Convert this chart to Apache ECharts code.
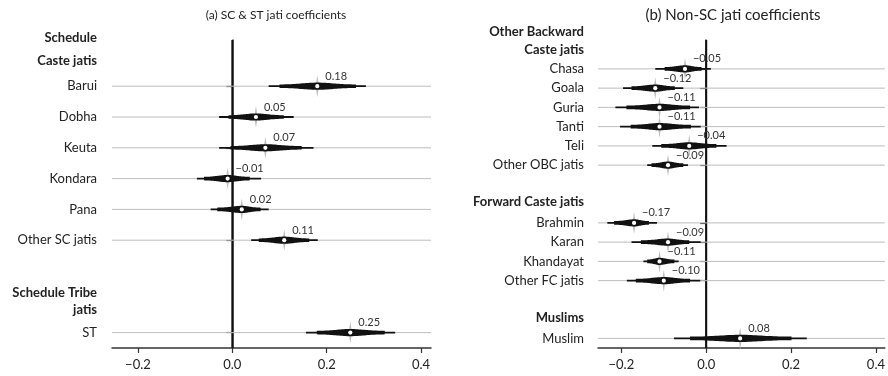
<!DOCTYPE html>
<html>
<head>
<meta charset="utf-8">
<title>Jati coefficients</title>
<script src="https://cdn.jsdelivr.net/npm/echarts@6.0.0/dist/echarts.min.js"></script>
<style>
  html, body { margin: 0; padding: 0; background: #ffffff; }
  #chart { width: 888px; height: 376px; }
</style>
</head>
<body>
<div id="chart"></div>
<script>
// Panel (a): Scheduled Caste and Scheduled Tribe jatis
const leftCategories = ['Schedule Caste jatis', 'Barui', 'Dobha', 'Keuta', 'Kondara', 'Pana', 'Other SC jatis', ' ', 'Schedule Tribe jatis', 'ST'];
const leftEstimate  = [null, 0.18, 0.05, 0.07, -0.01, 0.02, 0.11, null, null, 0.25];
const leftOuterLow  = [null, 0.077, -0.028, -0.028, -0.075, -0.046, 0.040, null, null, 0.156];
const leftOuterHigh = [null, 0.283, 0.130, 0.172, 0.061, 0.077, 0.181, null, null, 0.345];
const leftInnerLow  = [null, 0.100, -0.008, -0.004, -0.060, -0.032, 0.056, null, null, 0.179];
const leftInnerHigh = [null, 0.262, 0.109, 0.147, 0.037, 0.060, 0.163, null, null, 0.323];

// Panel (b): other backward castes, forward castes and Muslims
const rightCategories = ['Other Backward Caste jatis', 'Chasa', 'Goala', 'Guria', 'Tanti', 'Teli', 'Other OBC jatis', ' ', 'Forward Caste jatis', 'Brahmin', 'Karan', 'Khandayat', 'Other FC jatis', '  ', 'Muslims', 'Muslim'];
const rightEstimate  = [null, -0.05, -0.12, -0.11, -0.11, -0.04, -0.09, null, null, -0.17, -0.09, -0.11, -0.10, null, null, 0.08];
const rightOuterLow  = [null, -0.120, -0.196, -0.214, -0.203, -0.127, -0.139, null, null, -0.233, -0.176, -0.148, -0.187, null, null, -0.076];
const rightOuterHigh = [null, 0.011, -0.054, -0.017, -0.013, 0.048, -0.043, null, null, -0.116, -0.013, -0.065, -0.014, null, null, 0.237];
const rightInnerLow  = [null, -0.098, -0.176, -0.188, -0.178, -0.106, -0.129, null, null, -0.217, -0.154, -0.139, -0.166, null, null, -0.038];
const rightInnerHigh = [null, -0.011, -0.074, -0.038, -0.036, 0.024, -0.054, null, null, -0.135, -0.040, -0.075, -0.038, null, null, 0.201];

// Group headings: wrapped text and line height (blank lines lift the text within its slot)
const groupLayout = {
  'Schedule Caste jatis':       { text: 'Schedule\n\nCaste jatis\n', lineHeight: 11.5 },
  'Schedule Tribe jatis':       { text: 'Schedule Tribe\njatis', lineHeight: 17 },
  'Other Backward Caste jatis': { text: 'Other Backward\nCaste jatis\n', lineHeight: 18 },
  'Forward Caste jatis':        { text: 'Forward Caste jatis\n', lineHeight: 4 },
  'Muslims':                    { text: 'Muslims\n', lineHeight: 2 }
};

const xTicks = [-0.2, 0, 0.2, 0.4];
const titles = ['(a) SC & ST jati coefficients', '(b) Non-SC jati coefficients'];

const FONT = 'Lato, "Open Sans", sans-serif';

function fmtCoef(v) {
  return (v < 0 ? '\u2212' : '') + Math.abs(v).toFixed(2);
}
function fmtTick(v) {
  return (v < 0 ? '\u2212' : '') + Math.abs(v).toFixed(1);
}
function fmtCategory(v) {
  return groupLayout[v] ? groupLayout[v].text : v;
}

function axisData(categories) {
  return categories.map(function (c) {
    const g = groupLayout[c];
    if (g) {
      return { value: c, textStyle: { fontWeight: 'bold', color: '#222', lineHeight: g.lineHeight } };
    }
    return c;
  });
}

function seriesData(est, oLo, oHi, iLo, iHi) {
  const out = [];
  est.forEach(function (v, i) {
    if (v !== null) out.push([v, i, oLo[i], oHi[i], iLo[i], iHi[i]]);
  });
  return out;
}

// Draw one coefficient: grid rule, thin interval, thick interval, spindle, highlight, point and value
function renderCoef(params, api) {
  const est = api.value(0), row = api.value(1);
  const c = api.coord([est, row]);
  const cx = c[0], cy = c[1];
  const oLo = api.coord([api.value(2), row])[0];
  const oHi = api.coord([api.value(3), row])[0];
  const iLo = api.coord([api.value(4), row])[0];
  const iHi = api.coord([api.value(5), row])[0];
  const cs = params.coordSys;

  // spindle outline
  const top = [], bottom = [];
  const steps = 40;
  const sL = Math.max(2, (cx - iLo) / 2.6);
  const sR = Math.max(2, (iHi - cx) / 2.6);
  for (let k = 0; k <= steps; k++) {
    const x = iLo + (iHi - iLo) * k / steps;
    const s = x < cx ? sL : sR;
    const h = 1.7 + 1.9 * Math.exp(-0.5 * Math.pow((x - cx) / s, 2));
    top.push([x, cy - h]);
    bottom.unshift([x, cy + h]);
  }

  return {
    type: 'group',
    children: [
      { type: 'line', shape: { x1: cs.x, y1: cy, x2: cs.x + cs.width, y2: cy },
        style: { stroke: '#bdbdbd', lineWidth: 1 }, z2: 0 },
      { type: 'polygon', shape: { points: [[cx, cy - 11], [cx + 1.7, cy], [cx, cy + 11], [cx - 1.7, cy]] },
        style: { fill: '#bdbdbd' }, z2: 1 },
      { type: 'rect', shape: { x: oLo, y: cy - 0.9, width: oHi - oLo, height: 1.8 },
        style: { fill: '#111' }, z2: 2 },
      { type: 'polygon', shape: { points: top.concat(bottom) },
        style: { fill: '#111' }, z2: 3 },
      { type: 'circle', shape: { cx: cx, cy: cy, r: 2.1 },
        style: { fill: '#ffffff' }, z2: 4 },
      { type: 'text', x: cx + 8, y: cy - 10,
        style: { text: fmtCoef(est), fill: '#333', fontSize: 11, fontFamily: FONT, align: 'left', verticalAlign: 'middle' }, z2: 5 }
    ]
  };
}

function renderZero(params, api) {
  const x = api.coord([0, 0])[0];
  const cs = params.coordSys;
  return { type: 'line', shape: { x1: x, y1: cs.y, x2: x, y2: cs.y + cs.height },
           style: { stroke: '#111', lineWidth: 2 } };
}

function xAxisFor(gridIndex) {
  return {
    type: 'value', gridIndex: gridIndex, min: -0.255, max: 0.421,
    axisLine: { show: true, onZero: false, lineStyle: { color: '#333', width: 1.5 } },
    axisTick: { show: true, length: 5, customValues: xTicks, lineStyle: { color: '#333', width: 1.2 } },
    axisLabel: { customValues: xTicks, formatter: fmtTick, color: '#222', fontSize: 13, fontFamily: FONT, margin: 10 },
    splitLine: { show: false }
  };
}

function yAxisFor(gridIndex, categories, est, margin) {
  return {
    type: 'category', gridIndex: gridIndex, inverse: true,
    data: axisData(categories),
    axisLine: { show: true, lineStyle: { color: '#333', width: 1.5 } },
    axisTick: { show: true, length: 6, alignWithLabel: true,
                interval: function (i) { return est[i] !== null; },
                lineStyle: { color: '#333', width: 1.2 } },
    axisLabel: { interval: 0, formatter: fmtCategory, color: '#222', fontSize: 13, fontFamily: FONT, margin: margin, align: 'right' },
    splitLine: { show: false }
  };
}

const chart = echarts.init(document.getElementById('chart'), null, { renderer: 'canvas' });
chart.setOption({
  animation: false,
  backgroundColor: '#ffffff',
  textStyle: { fontFamily: FONT },
  title: [
    { text: titles[0], left: 271, top: 4, textAlign: 'center',
      textStyle: { fontSize: 12, fontWeight: 'normal', color: '#222', fontFamily: FONT } },
    { text: titles[1], left: 728, top: 3, textAlign: 'center',
      textStyle: { fontSize: 15, fontWeight: 'normal', color: '#222', fontFamily: FONT } }
  ],
  grid: [
    { left: 112, top: 40, width: 319, height: 308 },
    { left: 598, top: 40, width: 287, height: 308 }
  ],
  xAxis: [xAxisFor(0), xAxisFor(1)],
  yAxis: [
    yAxisFor(0, leftCategories, leftEstimate, 15),
    yAxisFor(1, rightCategories, rightEstimate, 14)
  ],
  series: [
    { type: 'custom', xAxisIndex: 0, yAxisIndex: 0, z: 1, silent: true,
      renderItem: renderZero, data: [[0, 0]] },
    { type: 'custom', xAxisIndex: 1, yAxisIndex: 1, z: 1, silent: true,
      renderItem: renderZero, data: [[0, 0]] },
    { type: 'custom', name: 'SC & ST', xAxisIndex: 0, yAxisIndex: 0, z: 2, silent: true,
      renderItem: renderCoef, encode: { x: [0, 2, 3, 4, 5], y: 1 },
      data: seriesData(leftEstimate, leftOuterLow, leftOuterHigh, leftInnerLow, leftInnerHigh) },
    { type: 'custom', name: 'Non-SC', xAxisIndex: 1, yAxisIndex: 1, z: 2, silent: true,
      renderItem: renderCoef, encode: { x: [0, 2, 3, 4, 5], y: 1 },
      data: seriesData(rightEstimate, rightOuterLow, rightOuterHigh, rightInnerLow, rightInnerHigh) }
  ]
});
</script>
</body>
</html>
